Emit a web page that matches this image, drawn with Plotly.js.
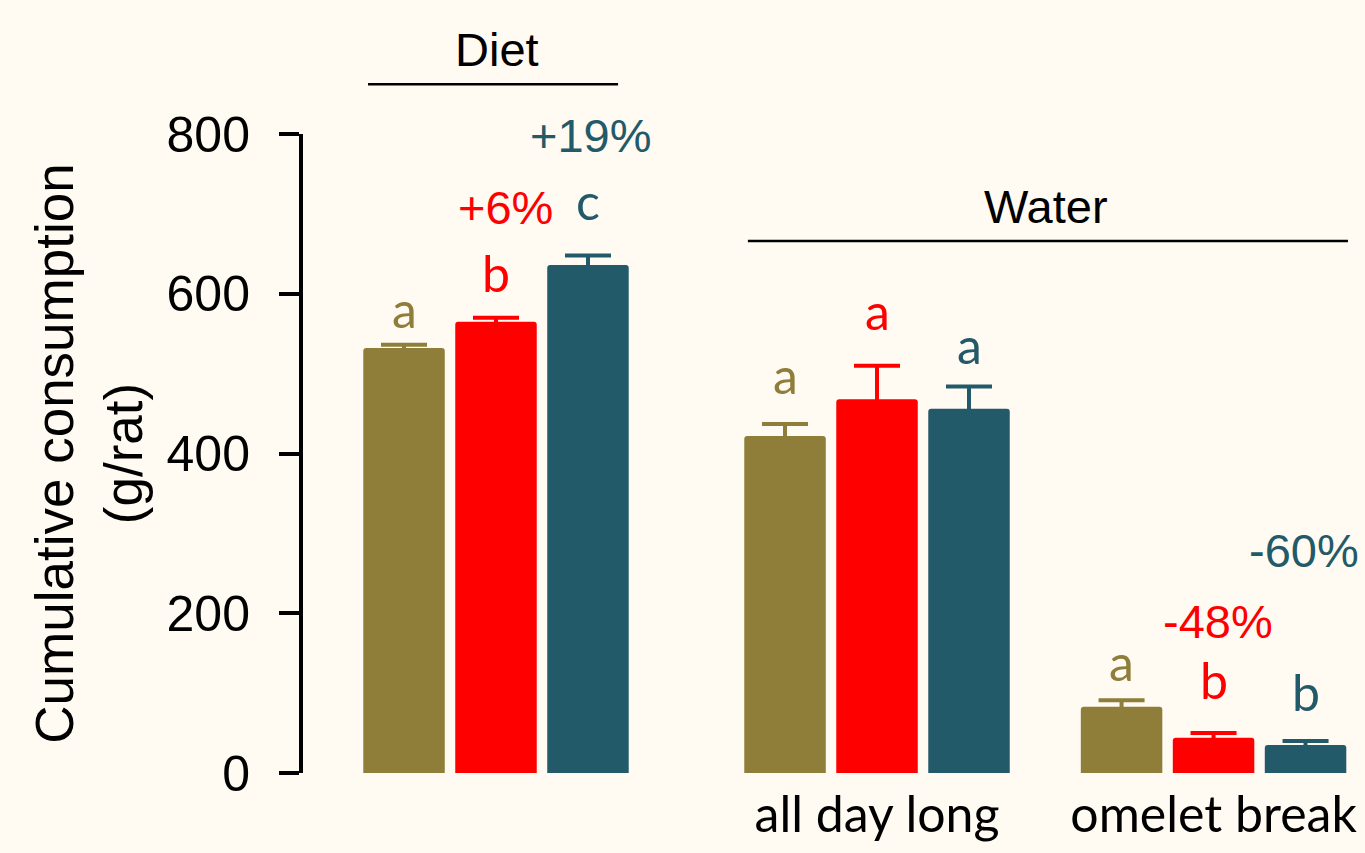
<!DOCTYPE html>
<html>
<head>
<meta charset="utf-8">
<script src="https://cdn.plot.ly/plotly-3.0.1.min.js"></script>
<style>
  html, body { margin: 0; padding: 0; background: #fffaf2; }
  #chart { width: 1365px; height: 853px; }
</style>
</head>
<body>
<div id="chart"></div>
<script>
// ---- Data ----
const dietCategory = ['Diet'];
const waterCategories = ['all day long', 'omelet break'];
const seriesNames = ['Group 1', 'Group 2', 'Group 3'];
const seriesColors = ['#8f7e39', '#ff0000', '#235a69'];

const dietValues = [532, 565, 636];
const dietErrors = [4, 5, 12];
const allDayValues = [422, 468, 456];
const allDayErrors = [15, 42, 28];
const omeletValues = [83, 44, 35];
const omeletErrors = [8, 6, 5];

const dietLetters = ['a', 'b', 'c'];
const allDayLetters = ['a', 'a', 'a'];
const omeletLetters = ['a', 'b', 'b'];
const dietPercents = ['', '+6%', '+19%'];
const omeletPercents = ['', '-48%', '-60%'];

const yTickValues = [0, 200, 400, 600, 800];

// ---- Styling / layout constants ----
const BARGAP = 0.18;
const BARGROUPGAP = 0.114;
const slot = (1 - BARGAP) / 3;
const letterFont = 'Lato, "Open Sans", sans-serif';
const arialFont = '"Liberation Sans", Arial, sans-serif';

// per-label vertical shifts (px) above error-bar tops
const dietLetterShift = [4, 13, 22];
const allDayLetterShift = [17, 23, 9];
const omeletLetterShift = [6, 21, 17];
const dietPctShift = [0, 110, 120];
const dietPctXShift = [0, 10, 3];
const omeletPctShift = [0, 112, 191];
const omeletPctXShift = [0, 4, -2];

const traces = [];
for (let i = 0; i < 3; i++) {
  traces.push({
    type: 'bar', name: seriesNames[i], x: dietCategory, y: [dietValues[i]],
    xaxis: 'x', yaxis: 'y',
    marker: { color: seriesColors[i] },
    error_y: { type: 'data', array: [dietErrors[i]], symmetric: true,
               color: seriesColors[i], thickness: 4, width: 23 },
    showlegend: false, hoverinfo: 'y'
  });
  traces.push({
    type: 'bar', name: seriesNames[i], x: waterCategories, y: [allDayValues[i], omeletValues[i]],
    xaxis: 'x2', yaxis: 'y',
    marker: { color: seriesColors[i] },
    error_y: { type: 'data', array: [allDayErrors[i], omeletErrors[i]], symmetric: true,
               color: seriesColors[i], thickness: 4, width: 23 },
    showlegend: false, hoverinfo: 'y'
  });
}

const annotations = [];
for (let i = 0; i < 3; i++) {
  const off = (i - 1) * slot;
  annotations.push({ xref: 'x', yref: 'y', x: 0 + off, y: dietValues[i] + dietErrors[i],
    text: dietLetters[i], showarrow: false, yanchor: 'bottom', yshift: dietLetterShift[i],
    font: { family: letterFont, size: 50, color: seriesColors[i] } });
  annotations.push({ xref: 'x2', yref: 'y', x: 0 + off, y: allDayValues[i] + allDayErrors[i],
    text: allDayLetters[i], showarrow: false, yanchor: 'bottom', yshift: allDayLetterShift[i],
    font: { family: letterFont, size: 50, color: seriesColors[i] } });
  annotations.push({ xref: 'x2', yref: 'y', x: 1 + off, y: omeletValues[i] + omeletErrors[i],
    text: omeletLetters[i], showarrow: false, yanchor: 'bottom', yshift: omeletLetterShift[i],
    font: { family: letterFont, size: 50, color: seriesColors[i] } });
  if (dietPercents[i]) {
    annotations.push({ xref: 'x', yref: 'y', x: 0 + off, y: dietValues[i] + dietErrors[i],
      text: dietPercents[i], showarrow: false, yanchor: 'middle', yshift: dietPctShift[i], xshift: dietPctXShift[i],
      font: { family: arialFont, size: 47, color: seriesColors[i] } });
  }
  if (omeletPercents[i]) {
    annotations.push({ xref: 'x2', yref: 'y', x: 1 + off, y: omeletValues[i] + omeletErrors[i],
      text: omeletPercents[i], showarrow: false, yanchor: 'middle', yshift: omeletPctShift[i], xshift: omeletPctXShift[i],
      font: { family: arialFont, size: 47, color: seriesColors[i] } });
  }
}
// group headers
annotations.push({ xref: 'paper', yref: 'paper', x: 0.1842, y: 1.1315, text: 'Diet', showarrow: false,
  xanchor: 'center', yanchor: 'middle', font: { family: arialFont, size: 47, color: '#000' } });
annotations.push({ xref: 'paper', yref: 'paper', x: 0.700, y: 0.8858, text: 'Water', showarrow: false,
  xanchor: 'center', yanchor: 'middle', font: { family: arialFont, size: 47, color: '#000' } });

const shapes = [
  { type: 'line', xref: 'paper', yref: 'paper', x0: 0.063, x1: 0.298, y0: 1.078, y1: 1.078,
    line: { color: '#000', width: 2.5 } },
  { type: 'line', xref: 'paper', yref: 'paper', x0: 0.420, x1: 0.984, y0: 0.8326, y1: 0.8326,
    line: { color: '#000', width: 2.5 } }
];

const layout = {
  width: 1365, height: 853,
  margin: { l: 301, r: 0, t: 134, b: 80 },
  paper_bgcolor: '#fffaf2', plot_bgcolor: '#fffaf2',
  barmode: 'group', bargap: BARGAP, bargroupgap: BARGROUPGAP, barcornerradius: 3,
  showlegend: false,
  xaxis: { domain: [0.02514, 0.34140], range: [-0.5, 0.5], anchor: 'y', type: 'category',
           showticklabels: false, ticks: '', showline: false, showgrid: false, zeroline: false, fixedrange: true },
  xaxis2: { domain: [0.38322, 1], range: [-0.5, 1.45], anchor: 'y', type: 'category',
            showticklabels: true, ticks: '', showline: false, showgrid: false, zeroline: false,
            tickfont: { family: letterFont, size: 50, color: '#000' }, ticklabelstandoff: 8 },
  yaxis: { range: [0, 800], anchor: 'free', position: 0, tickvals: yTickValues,
           ticks: 'outside', ticklen: 20, tickwidth: 4, tickcolor: '#000',
           showline: true, linewidth: 4, linecolor: '#000', showgrid: false, zeroline: false,
           tickfont: { family: arialFont, size: 50, color: '#000' }, ticklabelstandoff: 19,
           title: { text: 'Cumulative consumption<br>(g/rat)', standoff: 6,
                    font: { family: arialFont, size: 53, color: '#000' } } },
  annotations: annotations,
  shapes: shapes
};

Plotly.newPlot('chart', traces, layout, { displayModeBar: false, staticPlot: true });
</script>
</body>
</html>
